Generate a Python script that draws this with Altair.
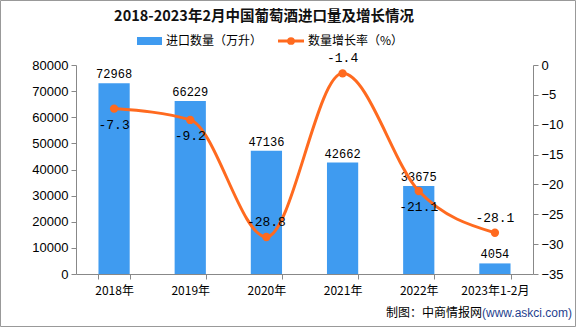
import altair as alt
import pandas as pd

categories = ["2018年", "2019年", "2020年", "2021年", "2022年", "2023年1-2月"]
volumes = [72968, 66229, 47136, 42662, 33675, 4054]
growth = [-7.3, -9.2, -28.8, -1.4, -21.1, -28.1]
growth_label_above = [False, False, True, True, False, True]

df = pd.DataFrame({
    "cat": categories,
    "vol": volumes,
    "g": growth,
    "above": growth_label_above,
})
df["glabel"] = df["g"].map(lambda v: f"{v:.1f}")

W, H = 457, 209
BAR = "#3F9BF0"
LINE = "#FF6A1F"
CJK = "Noto Sans CJK SC"

x = alt.X("cat:N", sort=categories, title=None,
          scale=alt.Scale(paddingInner=0.59, paddingOuter=0.295),
          axis=alt.Axis(labelAngle=0, labelFont=CJK, labelFontSize=12, labelColor="#000",
                        labelPadding=6, domainColor="#888", tickColor="#888", tickSize=5,
                        tickBand="extent", grid=False))

yl = alt.Y("vol:Q", title=None,
           scale=alt.Scale(domain=[0, 80000], nice=False),
           axis=alt.Axis(orient="left", values=list(range(0, 80001, 10000)), format="d",
                         labelFont="Liberation Sans", labelFontSize=13, labelColor="#000",
                         domainColor="#888", tickColor="#888", tickSize=5, grid=False,
                         labelPadding=3))

yr = alt.Y("g:Q", title=None,
           scale=alt.Scale(domain=[-35, 0], nice=False),
           axis=alt.Axis(orient="right", values=list(range(-35, 1, 5)),
                         labelFont="Liberation Sans", labelFontSize=13, labelColor="#000",
                         domainColor="#888", tickColor="#888", tickSize=5, grid=False,
                         labelPadding=3))

base = alt.Chart(df)

bars = base.mark_bar(color=BAR).encode(x=x, y=yl)
bar_text = base.mark_text(font="Liberation Mono", fontSize=12, dy=-9, color="#000").encode(
    x=x, y=yl, text="vol:Q")
left = alt.layer(bars, bar_text)

line = base.mark_line(color=LINE, strokeWidth=3, interpolate="monotone").encode(x=x, y=yr)
pts = base.mark_circle(color=LINE, size=70, opacity=1).encode(x=x, y=yr)
lab_below = base.transform_filter("!datum.above").mark_text(
    font="Liberation Mono", fontSize=13, dy=16, color="#000").encode(
    x=x, y=yr, text="glabel:N")
lab_above = base.transform_filter("datum.above").mark_text(
    font="Liberation Mono", fontSize=13, dy=-15, color="#000").encode(
    x=x, y=yr, text="glabel:N")
right = alt.layer(line, pts, lab_below, lab_above)

# decorations (title, legend, source, frame), positioned relative to plot origin
one = pd.DataFrame({"a": [0]})
dec = alt.Chart(one)
OX, OY = 76, 65
title = dec.mark_text(text="2018-2023年2月中国葡萄酒进口量及增长情况", font=CJK, fontSize=14.5,
                      fontWeight="bold", color="#111", align="center", baseline="middle").encode(
    x=alt.value(264 - OX), y=alt.value(17 - OY))
leg_rect = dec.mark_rect(color=BAR).encode(
    x=alt.value(137 - OX), x2=alt.value(162 - OX), y=alt.value(37 - OY), y2=alt.value(45 - OY))
leg_t1 = dec.mark_text(text="进口数量（万升）", font=CJK, fontSize=12, color="#000",
                       align="left", baseline="middle").encode(
    x=alt.value(166 - OX), y=alt.value(41 - OY))
leg_line = dec.mark_rule(color=LINE, strokeWidth=3).encode(
    x=alt.value(278 - OX), x2=alt.value(304 - OX), y=alt.value(41 - OY))
leg_pt = dec.mark_circle(color=LINE, size=60, opacity=1).encode(
    x=alt.value(291 - OX), y=alt.value(41 - OY))
leg_t2 = dec.mark_text(text="数量增长率（%）", font=CJK, fontSize=12, color="#000",
                       align="left", baseline="middle").encode(
    x=alt.value(308 - OX), y=alt.value(41 - OY))
src1 = dec.mark_text(text="制图：中商情报网", font=CJK, fontSize=12, color="#000",
                     align="right", baseline="middle").encode(
    x=alt.value(482 - OX), y=alt.value(313 - OY))
src2 = dec.mark_text(text="(www.askci.com)", font="Liberation Sans", fontSize=12, color="#1F3F8F",
                     align="left", baseline="middle").encode(
    x=alt.value(482 - OX), y=alt.value(313 - OY))
frame = dec.mark_rect(fill=None, stroke="#999", strokeWidth=1).encode(
    x=alt.value(0.5 - OX), x2=alt.value(575.5 - OX), y=alt.value(0.5 - OY), y2=alt.value(326.5 - OY))
decor = alt.layer(title, leg_rect, leg_t1, leg_line, leg_pt, leg_t2, src1, src2, frame)

chart = alt.layer(left, right, decor).resolve_scale(y="independent").properties(
    width=W, height=H,
    autosize=alt.AutoSizeParams(type="none"),
    padding={"left": OX, "top": OY, "right": 576 - OX - W, "bottom": 327 - OY - H},
    background="white",
).configure_view(stroke=None)

chart.save("out.html", embed_options={"renderer": "svg", "actions": False})
